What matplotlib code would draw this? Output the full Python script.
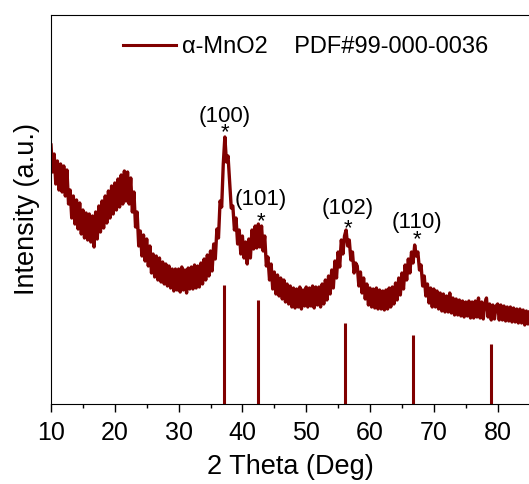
import numpy as np
import matplotlib.pyplot as plt

plt.rcParams['font.family'] = ['Liberation Sans', 'DejaVu Sans']

# 2 theta from 10 to 85 deg, step 0.25
two_theta = np.arange(10, 85.001, 0.25)
intensity = [
    259, 232, 250, 220, 243, 214, 240, 212,
    238, 208, 234, 200, 214, 186, 208, 180,
    204, 175, 201, 170, 194, 166, 191, 164,
    190, 162, 188, 157, 192, 165, 198, 172,
    203, 176, 208, 181, 213, 186, 218, 190,
    221, 194, 225, 197, 229, 200, 233, 203,
    232, 200, 226, 192, 212, 177, 192, 158,
    173, 148, 169, 143, 165, 138, 158, 131,
    150, 127, 148, 124, 146, 122, 142, 120,
    140, 118, 138, 116, 135, 113, 135, 114,
    135, 112, 137, 114, 134, 111, 136, 115,
    137, 115, 139, 116, 138, 117, 141, 120,
    145, 124, 149, 128, 153, 133, 160, 145,
    175, 166, 203, 197, 240, 267, 242, 248,
    222, 196, 198, 174, 186, 160, 174, 150,
    168, 146, 162, 140, 165, 146, 174, 155,
    178, 156, 180, 157, 178, 153, 168, 138,
    147, 124, 140, 115, 132, 110, 129, 108,
    126, 105, 124, 102, 120, 100, 118, 97,
    116, 96, 115, 97, 117, 95, 114, 98,
    117, 97, 116, 98, 118, 96, 117, 99,
    117, 97, 120, 100, 124, 104, 128, 110,
    134, 116, 143, 126, 152, 137, 164, 150,
    168, 174, 158, 164, 144, 152, 131, 141,
    138, 118, 132, 111, 126, 105, 120, 99,
    116, 97, 115, 96, 116, 95, 114, 95,
    113, 94, 114, 95, 116, 97, 117, 100,
    121, 104, 126, 109, 131, 115, 139, 124,
    145, 131, 152, 141, 159, 148, 152, 134,
    139, 118, 128, 108, 120, 101, 116, 97,
    115, 97, 113, 95, 111, 93, 110, 92,
    108, 92, 111, 91, 106, 89, 105, 89,
    104, 88, 103, 87, 102, 88, 103, 86,
    102, 86, 103, 87, 106, 86, 102, 85,
    101, 106, 87, 100, 84, 99, 85, 98,
    100, 84, 99, 84, 98, 83, 97, 83,
    97, 82, 96, 82, 95, 81, 95, 81,
    94, 79, 93, 80, 92,
]

# reference card PDF#99-000-0036
ref_pos = [37.1, 42.4, 56.1, 66.7, 78.95]
ref_height = [119, 104, 81, 69, 60]

# peak labels (hkl) with a star under each
peak_labels = ['(100)', '(101)', '(102)', '(110)']
peak_x = [37.3, 42.9, 56.5, 67.4]
star_y = [275, 186, 179, 168]
gap = [0.7, 1.05, 0.95, 0.75]

color = '#800000'

fig = plt.figure(figsize=(5.29, 4.84), dpi=100)
ax = fig.add_axes([0.0964, 0.1653, 0.9046, 0.8037])

ax.plot(two_theta, intensity, color=color, lw=2.4, label='α-MnO2    PDF#99-000-0036')
ax.vlines(ref_pos, 0, ref_height, color=color, lw=2.2)

for lab, x, y, ls in zip(peak_labels, peak_x, star_y, gap):
    ax.text(x, y - 9, lab + '\n*', ha='center', va='baseline',
            fontsize=16, linespacing=ls)

ax.set_xlim(10, 85)
ax.set_ylim(0, 389)
ax.set_xticks(np.arange(10, 81, 10))
ax.set_xticks(np.arange(15, 85, 10), minor=True)
ax.tick_params(axis='x', which='major', length=6, width=1, labelsize=18,
               direction='out', pad=6)
ax.tick_params(axis='x', which='minor', length=3, width=1, direction='out')
ax.set_yticks([])
ax.set_xlabel('2 Theta (Deg)', fontsize=19.5, labelpad=7)
ax.set_ylabel('Intensity (a.u.)', fontsize=19.5, labelpad=8)

leg = ax.legend(loc='center left', bbox_to_anchor=(0.1506, 0.918), frameon=False,
                borderpad=0, borderaxespad=0, fontsize=17,
                handlelength=2.25, handletextpad=0.25)
leg.get_lines()[0].set_linewidth(2.2)

fig.savefig('out.png', dpi=100)
